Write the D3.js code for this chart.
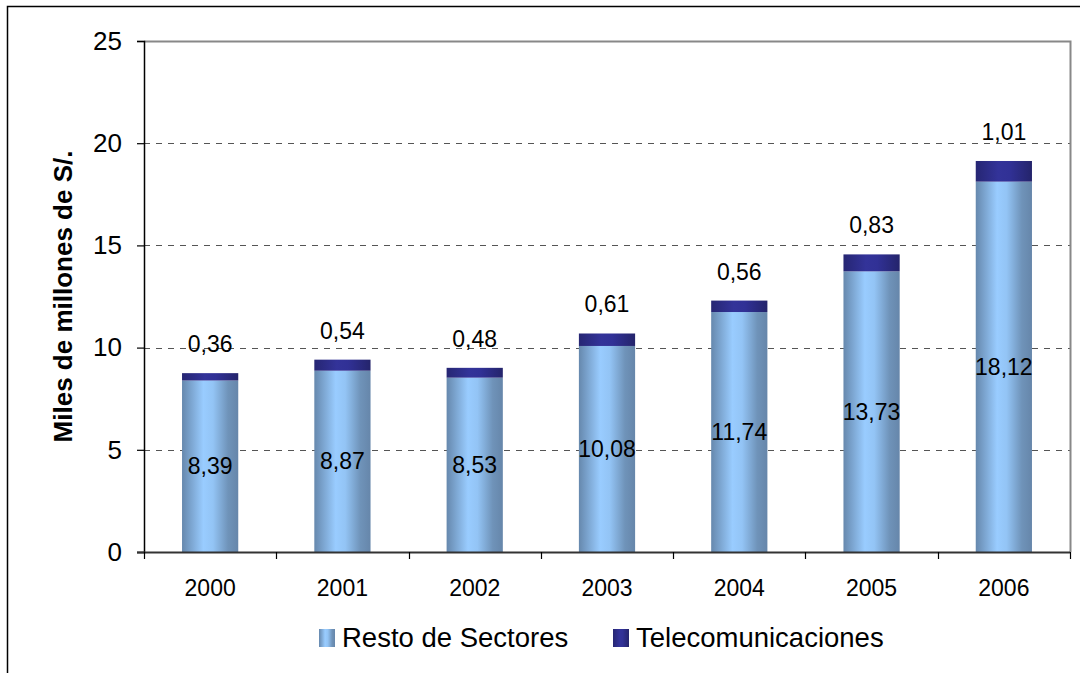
<html>
<head>
<style>
  body { margin: 0; background: #fff; }
  text { font-family: "Liberation Sans", Arial, sans-serif; }
</style>
<script src="https://d3js.org/d3.v7.min.js"></script>
</head>
<body>
<svg width="1080" height="673"></svg>
<script>
var years = ["2000", "2001", "2002", "2003", "2004", "2005", "2006"];
var resto = [8.39, 8.87, 8.53, 10.08, 11.74, 13.73, 18.12];
var telecom = [0.36, 0.54, 0.48, 0.61, 0.56, 0.83, 1.01];
var yTicks = [0, 5, 10, 15, 20, 25];
var seriesNames = ["Resto de Sectores", "Telecomunicaciones"];

var svg = d3.select("svg");
var plotL = 144, plotR = 1070, plotT = 41, plotB = 552;

// outer frame
svg.append("rect").attr("x", 7.5).attr("y", 6.5).attr("width", 1100).attr("height", 700)
   .attr("fill", "none").attr("stroke", "#000").attr("stroke-width", 1.5);

var defs = svg.append("defs");
var g1 = defs.append("linearGradient").attr("id", "gResto").attr("x1", "0").attr("x2", "1").attr("y1", "0").attr("y2", "0");
g1.append("stop").attr("offset", "0").attr("stop-color", "#6688ad");
g1.append("stop").attr("offset", "0.38").attr("stop-color", "#99ccff");
g1.append("stop").attr("offset", "0.55").attr("stop-color", "#93c4f5");
g1.append("stop").attr("offset", "0.82").attr("stop-color", "#6f93b9");
g1.append("stop").attr("offset", "1").attr("stop-color", "#6686aa");
var g2 = defs.append("linearGradient").attr("id", "gTel").attr("x1", "0").attr("x2", "1").attr("y1", "0").attr("y2", "0");
g2.append("stop").attr("offset", "0").attr("stop-color", "#262673");
g2.append("stop").attr("offset", "0.4").attr("stop-color", "#333399");
g2.append("stop").attr("offset", "0.6").attr("stop-color", "#313196");
g2.append("stop").attr("offset", "1").attr("stop-color", "#24246b");

var x = d3.scaleBand().domain(years).range([plotL, plotR]).paddingInner(0.575).paddingOuter(0.2875);
var y = d3.scaleLinear().domain([0, 25]).range([plotB, plotT]);

// grid lines
svg.append("g").selectAll("line").data(yTicks.filter(function(d){ return d > 0 && d < 25; }))
   .enter().append("line")
   .attr("x1", plotL).attr("x2", plotR)
   .attr("y1", function(d){ return Math.round(y(d)) + 0.5; })
   .attr("y2", function(d){ return Math.round(y(d)) + 0.5; })
   .attr("stroke", "#555").attr("stroke-width", 1.2).attr("stroke-dasharray", "6,6");

// plot border top / right
svg.append("path").attr("d", "M" + plotL + "," + (plotT + 0.5) + "H" + (plotR + 0.5) + "V" + plotB)
   .attr("fill", "none").attr("stroke", "#888").attr("stroke-width", 2);

// bars
var bars = svg.append("g");
years.forEach(function(yr, i) {
  bars.append("rect").attr("x", x(yr)).attr("width", x.bandwidth())
      .attr("y", y(resto[i])).attr("height", y(0) - y(resto[i]))
      .attr("fill", "url(#gResto)");
  bars.append("rect").attr("x", x(yr)).attr("width", x.bandwidth())
      .attr("y", y(resto[i] + telecom[i])).attr("height", y(resto[i]) - y(resto[i] + telecom[i]))
      .attr("fill", "url(#gTel)");
});

// axes
var yAxis = svg.append("g").attr("transform", "translate(" + plotL + ",0)")
   .call(d3.axisLeft(y).tickValues(yTicks).tickSize(7).tickPadding(15).tickFormat(d3.format("d")));
yAxis.select(".domain").attr("stroke", "#000").attr("stroke-width", 1.5);
yAxis.selectAll("line").attr("stroke", "#000").attr("stroke-width", 1.2);
yAxis.selectAll("text").attr("font-size", "26px").attr("fill", "#000")
   .style("font-family", "'Liberation Sans', Arial, sans-serif");

var xAxisG = svg.append("g").attr("transform", "translate(0," + plotB + ")");
xAxisG.append("line").attr("x1", plotL - 7).attr("x2", plotR).attr("y1", 0.5).attr("y2", 0.5)
   .attr("stroke", "#333").attr("stroke-width", 2);
var bounds = [plotL].concat(years.map(function(d){ return x(d) + x.bandwidth() + x.step() * x.paddingInner() / 2; }));
xAxisG.selectAll(".tk").data(bounds).enter().append("line")
   .attr("x1", function(d){ return Math.round(d) + 0.5; }).attr("x2", function(d){ return Math.round(d) + 0.5; })
   .attr("y1", 0).attr("y2", 7).attr("stroke", "#000").attr("stroke-width", 1.2);
xAxisG.selectAll(".lbl").data(years).enter().append("text")
   .attr("x", function(d){ return x(d) + x.bandwidth() / 2; }).attr("y", 44)
   .attr("text-anchor", "middle").attr("font-size", "23px").text(function(d){ return d; });

// data labels
var labels = svg.append("g").attr("font-size", "23px").attr("text-anchor", "middle");
years.forEach(function(yr, i) {
  var cx = x(yr) + x.bandwidth() / 2;
  labels.append("text").attr("x", cx).attr("y", y(resto[i] / 2) + 8)
      .text(d3.format(".2f")(resto[i]).replace(".", ","));
  labels.append("text").attr("x", cx).attr("y", y(resto[i] + telecom[i]) - 21)
      .text(d3.format(".2f")(telecom[i]).replace(".", ","));
});

// y title
svg.append("text").attr("transform", "translate(72," + ((plotT + plotB) / 2) + ") rotate(-90)")
   .attr("text-anchor", "middle").attr("font-size", "26px").attr("font-weight", "bold")
   .text("Miles de millones de S/.");

// legend
var legend = svg.append("g");
var legX = [319, 613];
seriesNames.forEach(function(name, i) {
  legend.append("rect").attr("x", legX[i]).attr("y", 629).attr("width", 16).attr("height", 18)
     .attr("fill", i === 0 ? "url(#gResto)" : "url(#gTel)");
  legend.append("text").attr("x", legX[i] + 23).attr("y", 647).attr("font-size", "27.5px").text(name);
});
</script>
</body>
</html>
